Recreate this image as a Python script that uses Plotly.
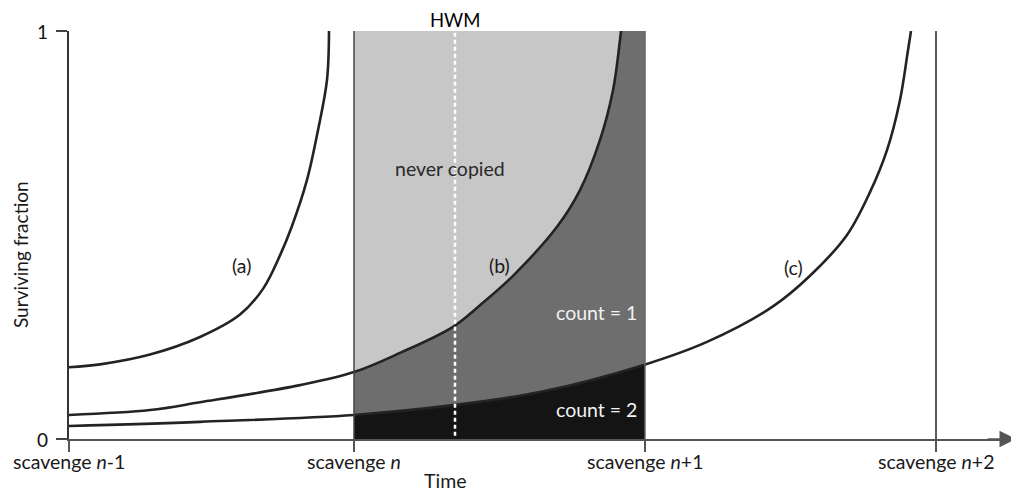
import plotly.graph_objects as go
import numpy as np

# ---- data ----
scavenge_t = [0, 285, 576, 867]
scavenge_labels = ["scavenge <i>n</i>-1", "scavenge <i>n</i>",
                   "scavenge <i>n</i>+1", "scavenge <i>n</i>+2"]
y_ticks = [0, 1]
y_ticktext = ["0", "1"]

a_t = [0, 31, 81, 131, 171, 194, 211, 223, 238, 249, 258, 260]
a_y = [0.176, 0.183, 0.207, 0.250, 0.305, 0.368, 0.450, 0.522, 0.635, 0.757, 0.880, 1.0]

b_t = [0, 81, 131, 231, 285, 331, 384, 411, 444, 488, 511, 531, 544, 551, 552]
b_y = [0.059, 0.071, 0.090, 0.132, 0.164, 0.211, 0.275, 0.328, 0.400, 0.520,
       0.610, 0.733, 0.855, 0.978, 1.0]

c_t = [0, 131, 285, 384, 471, 574, 638, 704, 741, 778, 801, 818, 831, 839, 842]
c_y = [0.032, 0.042, 0.059, 0.083, 0.115, 0.181, 0.238, 0.325, 0.400, 0.500,
       0.605, 0.708, 0.831, 0.953, 1.0]

hwm_t = 386
x_end = 947

FONT = "Lato"
FS = 19.5
TXT = "#1a1a1a"
CURVE = "#232323"
MID = "#6e6e6e"
DARK = "#141414"
LIGHT = "#c7c7c7"
SPL = dict(shape="spline", smoothing=1.0)

# page layout (the page body has an 8px margin)
OFF = 8
L, T, W, H = 69.0, 31.0, 947.0, 408.0
FIG_W, FIG_H = 1019 - OFF, 491 - OFF

fig = go.Figure()

t0, t1 = scavenge_t[1], scavenge_t[2]

# count = 1 region (below curve b, inside the window)
bt = np.array(b_t); by = np.array(b_y)
mask = (bt >= t0) & (bt <= t1)
fig.add_trace(go.Scatter(x=bt[mask], y=by[mask], mode="lines",
                         line=dict(width=0, color=MID, **SPL),
                         fill="tozeroy", fillcolor=MID, hoverinfo="skip"))

# count = 2 region (below curve c, inside the window)
ct = np.array(c_t); cy = np.array(c_y)
maskc = (ct >= t0) & (ct <= t1)
kx = list(ct[maskc]) + [t1]
ky = list(cy[maskc]) + [float(np.interp(t1, ct, cy))]
fig.add_trace(go.Scatter(x=kx, y=ky, mode="lines", line=dict(width=0, color=DARK, **SPL),
                         fill="tozeroy", fillcolor=DARK, hoverinfo="skip"))

# curves
for tt, yy in [(a_t, a_y), (b_t, b_y), (c_t, c_y)]:
    fig.add_trace(go.Scatter(x=tt, y=yy, mode="lines",
                             line=dict(color=CURVE, width=2.6, **SPL),
                             hoverinfo="skip"))

shapes = [
    dict(type="rect", xref="x", yref="y", x0=t0, x1=t1, y0=0, y1=1,
         fillcolor=LIGHT, line=dict(width=0), layer="below"),
    # strip right of where curve (b) reaches the top
    dict(type="rect", xref="x", yref="y", x0=b_t[-1], x1=t1, y0=0, y1=1,
         fillcolor=MID, line=dict(width=0), layer="below"),
    dict(type="line", xref="x", yref="y", x0=t0, x1=t0, y0=0, y1=1,
         line=dict(color="#444444", width=1.5)),
    dict(type="line", xref="x", yref="y", x0=t1, x1=t1, y0=0, y1=1,
         line=dict(color="#666666", width=1.5)),
    dict(type="line", xref="x", yref="y", x0=scavenge_t[3], x1=scavenge_t[3], y0=0, y1=1,
         line=dict(color="#222222", width=1.5)),
    dict(type="line", xref="x", yref="y", x0=hwm_t, x1=hwm_t, y0=0.008, y1=1,
         line=dict(color="#ffffff", width=2.5, dash="4px,3px")),
]


def px_x(px):
    return (px - L) / W


def px_y(py):
    return (T + H - py) / H


annotations = []


def add(text, x, y, xref="x", yref="y", size=FS, color=TXT, **kw):
    d = dict(text=text, x=x, y=y, xref=xref, yref=yref, showarrow=False,
             xanchor="center", yanchor="middle",
             font=dict(family=FONT, size=size, color=color))
    d.update(kw)
    annotations.append(d)


add("HWM", hwm_t, px_y(8.5), yref="paper", color="#000", size=18.5,
    yanchor="top", borderpad=0)
add("never copied", 381, px_y(168), yref="paper", color="#2a2a2a")
add("(a)", 172, px_y(265), yref="paper")
add("(b)", 430, px_y(265), yref="paper")
add("(c)", 724, px_y(267), yref="paper")
add("count = 1", 527, px_y(312), yref="paper", color="#f2f2f2")
add("count = 2", 527, px_y(409), yref="paper", color="#f2f2f2")
add("Time", px_x(445), px_y(480), xref="paper", yref="paper")
add("Surviving fraction", px_x(20), px_y(255), xref="paper", yref="paper",
    textangle=-90, size=19)
for tv, tl in zip(scavenge_t, scavenge_labels):
    add(tl, tv, px_y(461), yref="paper")
for tv, tl in zip(y_ticks, y_ticktext):
    add(tl, px_x(50), tv, xref="paper", xanchor="right", size=19, color="#111")

# arrow head at the end of the time axis
annotations.append(dict(xref="x", yref="y", axref="x", ayref="y", x=x_end, y=0,
                        ax=x_end - 30, ay=0, showarrow=True, arrowhead=2,
                        arrowsize=2.2, arrowwidth=1.5, arrowcolor="#555555", text=""))

fig.update_layout(
    width=FIG_W, height=FIG_H,
    margin=dict(l=L - OFF, r=FIG_W - (L - OFF) - W, t=T - OFF,
                b=FIG_H - (T - OFF) - H, autoexpand=False),
    paper_bgcolor="white", plot_bgcolor="white",
    showlegend=False,
    font=dict(family=FONT, size=FS, color=TXT),
    shapes=shapes, annotations=annotations,
    xaxis=dict(range=[0, x_end], showgrid=False, zeroline=False, automargin=False,
               showline=True, linecolor="#555555", linewidth=1.5,
               tickvals=scavenge_t, showticklabels=False,
               ticks="outside", ticklen=11, tickcolor="#555555", tickwidth=1.5),
    yaxis=dict(range=[0, 1], showgrid=False, zeroline=False, automargin=False,
               showline=True, linecolor="#333333", linewidth=1.5,
               tickvals=y_ticks, showticklabels=False,
               ticks="outside", ticklen=11, tickcolor="#444444", tickwidth=1.5),
)

fig.write_html("out.html")
